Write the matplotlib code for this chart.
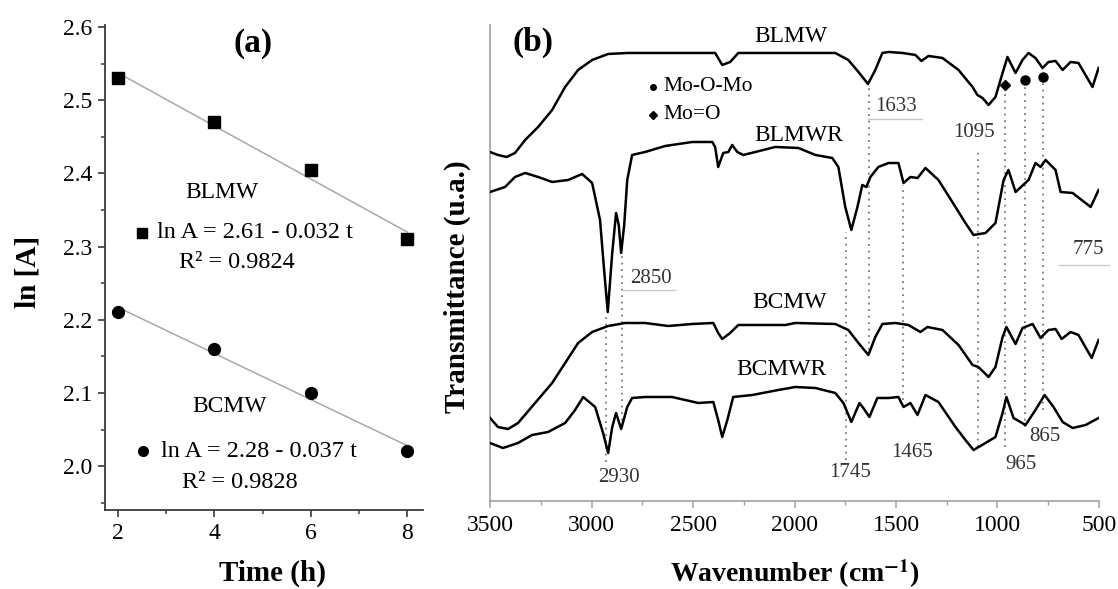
import numpy as np
import matplotlib
matplotlib.use('Agg')
from matplotlib import pyplot as plt

plt.rcParams['font.family'] = ['Liberation Serif', 'DejaVu Serif']
plt.rcParams['mathtext.fontset'] = 'stix'

# (a) ln[A] vs time
time_h = [2, 4, 6, 8]
ln_a_blmw = [2.53, 2.47, 2.405, 2.31]
ln_a_bcmw = [2.21, 2.16, 2.10, 2.02]
eq_blmw = 'ln A = 2.61 - 0.032 t'
eq_bcmw = 'ln A = 2.28 - 0.037 t'
r2_blmw = 'R² = 0.9824'
r2_bcmw = 'R² = 0.9828'

# (b) FTIR spectra, transmittance in arbitrary offset units
wn_blmw = [3500, 3461, 3418, 3377, 3327, 3263, 3194, 3130, 3066, 2997, 2918, 2820,
           2672, 2538, 2391, 2356, 2317, 2277, 1996, 1799, 1735, 1685, 1638, 1602,
           1567, 1537, 1468, 1404, 1375, 1340, 1271, 1192, 1123, 1099, 1074, 1044,
           1010, 975, 951, 911, 877, 847, 813, 778, 749, 714, 679, 640, 601, 532, 502]
t_blmw = [349, 346, 344, 348, 361, 374, 391, 414, 431, 441, 447, 448,
          448, 448, 448, 436, 439, 448, 448, 448, 441, 429, 417, 431,
          448, 449, 448, 446, 440, 445, 443, 431, 414, 406, 403, 396,
          404, 428, 444, 428, 441, 448, 443, 433, 439, 440, 431, 439, 438, 414, 433]

wn_blmwr = [3500, 3426, 3377, 3327, 3263, 3194, 3115, 3046, 2997, 2958, 2938, 2920,
            2898, 2879, 2866, 2854, 2839, 2824, 2800, 2736, 2637, 2504, 2405, 2391,
            2376, 2351, 2326, 2307, 2282, 2252, 2193, 2095, 1981, 1897, 1814, 1784,
            1750, 1720, 1690, 1666, 1646, 1626, 1587, 1537, 1488, 1463, 1429, 1394,
            1355, 1291, 1207, 1158, 1118, 1059, 1010, 970, 946, 911, 847, 813, 788,
            763, 714, 689, 630, 541, 502]
t_blmwr = [309, 314, 324, 328, 324, 319, 321, 327, 318, 281, 231, 189,
           248, 288, 276, 248, 276, 321, 346, 349, 355, 359, 359, 354,
           334, 348, 349, 356, 349, 346, 349, 354, 353, 346, 343, 334,
           294, 271, 294, 316, 314, 324, 334, 338, 338, 318, 324, 323,
           333, 321, 294, 278, 266, 268, 278, 321, 331, 309, 321, 338, 334,
           341, 331, 309, 308, 294, 311]

wn_bcmw = [3500, 3461, 3411, 3362, 3278, 3194, 3130, 3066, 2997, 2918, 2834, 2736,
           2622, 2504, 2400, 2376, 2356, 2317, 2277, 2045, 1996, 1799, 1735, 1685,
           1636, 1602, 1567, 1503, 1439, 1380, 1345, 1271, 1192, 1123, 1094, 1044,
           1010, 975, 956, 911, 877, 827, 788, 749, 714, 684, 640, 601, 536, 502]
t_bcmw = [83, 74, 72, 78, 98, 118, 138, 158, 169, 175, 178, 178,
          175, 177, 178, 168, 162, 168, 176, 176, 178, 177, 171, 158,
          146, 164, 177, 178, 176, 169, 174, 171, 156, 136, 134, 124,
          134, 164, 174, 157, 173, 177, 163, 171, 172, 162, 169, 166, 143, 161]

wn_bcmwr = [3500, 3436, 3362, 3293, 3214, 3130, 3081, 3041, 2982, 2943, 2918, 2898,
            2879, 2854, 2824, 2800, 2736, 2603, 2474, 2400, 2376, 2356, 2331, 2302,
            2208, 2080, 1996, 1897, 1799, 1759, 1720, 1680, 1661, 1631, 1592, 1537,
            1488, 1463, 1429, 1394, 1355, 1291, 1207, 1158, 1118, 1059, 1010, 975,
            956, 921, 862, 813, 768, 724, 679, 630, 566, 502]
t_bcmwr = [58, 53, 58, 66, 69, 78, 91, 104, 94, 68, 48, 74,
           88, 72, 94, 103, 104, 104, 98, 99, 81, 64, 81, 104,
           106, 111, 114, 113, 108, 98, 79, 98, 93, 84, 103, 103,
           104, 94, 98, 86, 106, 99, 74, 61, 51, 58, 64, 88,
           104, 83, 76, 91, 106, 94, 79, 73, 76, 83]

band_wn = [2930, 2850, 1745, 1633, 1465, 1095, 965, 865, 775]

fig = plt.figure(figsize=(11.18, 5.89), dpi=100)
ax1 = fig.add_axes([0.0939, 0.1341, 0.2845, 0.8235])
ax2 = fig.add_axes([0.4383, 0.1494, 0.5447, 0.8082])

# ---- panel (a) ----
t_fit = np.array([2, 8])
for vals in (ln_a_blmw, ln_a_bcmw):
    coef = np.polyfit(time_h, vals, 1)
    ax1.plot(t_fit, np.polyval(coef, t_fit), color='#a8a8a8', lw=1.1, zorder=1)
ax1.plot(time_h, ln_a_blmw, 's', color='black', ms=8, zorder=3)
ax1.plot(time_h, ln_a_bcmw, 'o', color='black', ms=8.5, zorder=3)

ax1.plot([2.5], [2.319], 's', color='black', ms=6.5)
ax1.plot([2.52], [2.02], 'o', color='black', ms=7)
ax1.text(4.16, 2.374, 'BLMW', fontsize=17, ha='center', va='center')
ax1.text(2.81, 2.319, eq_blmw, fontsize=17.5, ha='left', va='center')
ax1.text(4.47, 2.278, r2_blmw, fontsize=17.5, ha='center', va='center')
ax1.text(4.32, 2.082, 'BCMW', fontsize=17, ha='center', va='center')
ax1.text(2.89, 2.02, eq_bcmw, fontsize=17.5, ha='left', va='center')
ax1.text(4.53, 1.978, r2_bcmw, fontsize=17.5, ha='center', va='center')
ax1.text(4.80, 2.578, '(a)', fontsize=24, fontweight='bold', ha='center', va='center')

ax1.set_xlim(1.73, 8.33)
ax1.set_ylim(1.94, 2.603)
ax1.set_xticks([2, 4, 6, 8])
ax1.set_xticks([3, 5, 7], minor=True)
ax1.set_yticks([2.0, 2.1, 2.2, 2.3, 2.4, 2.5, 2.6])
ax1.set_yticks([1.95, 2.05, 2.15, 2.25, 2.35, 2.45, 2.55], minor=True)
ax1.yaxis.set_major_formatter(matplotlib.ticker.FormatStrFormatter('%.1f'))
for side in ('top', 'right'):
    ax1.spines[side].set_visible(False)
for side in ('left', 'bottom'):
    ax1.spines[side].set_color('#3a3a3a')
    ax1.spines[side].set_linewidth(1.3)
ax1.tick_params(which='major', direction='out', length=5, width=1.2,
                color='#3a3a3a', labelsize=17, pad=4)
ax1.tick_params(which='minor', direction='out', length=3, width=1.1, color='#3a3a3a')

# ---- panel (b) ----
for wn, tr in ((wn_blmw, t_blmw), (wn_blmwr, t_blmwr),
               (wn_bcmw, t_bcmw), (wn_bcmwr, t_bcmwr)):
    ax2.plot(wn, tr, color='black', lw=1.8, solid_joinstyle='round', zorder=3)

# dotted band guides
band_top = [188, 248, 269, 415, 316, 353, 413, 416, 419]
band_bot = [39, 74, 41, 151, 101, 54, 54, 74, 91]
ax2.vlines(band_wn, band_bot, band_top, colors='#7a7a7a', lw=1.3,
           linestyles=(0, (1, 2.6)), zorder=2)

label_xy = [(2864, 24), (2706, 222), (1725, 29), (1498, 394), (1419, 49),
            (1118, 368), (882, 37), (768, 64), (551, 251)]
for w, (lx, ly) in zip(band_wn, label_xy):
    ax2.text(lx, ly, str(w), fontsize=15, color='#333333', ha='center', va='center')
# thin underlines below some labels
for x0, x1, y in ((2849, 2588, 211), (1636, 1370, 382), (699, 453, 236)):
    ax2.plot([x0, x1], [y, y], color='#c8c8c8', lw=1.0, clip_on=False)

# band markers
ax2.plot([965], [416], 'D', color='black', ms=5.5, zorder=4)
ax2.plot([865, 775], [421, 424], 'o', color='black', ms=6.5, zorder=4)
ax2.plot([2696], [414], 'o', color='black', ms=4)
ax2.plot([2696], [386], 'D', color='black', ms=4.5)
ax2.text(2647, 414, 'Mo-O-Mo', fontsize=15.5, ha='left', va='center')
ax2.text(2647, 386, 'Mo=O', fontsize=15.5, ha='left', va='center')

ax2.text(2016, 464, 'BLMW', fontsize=17, ha='center', va='center')
ax2.text(1981, 365, 'BLMWR', fontsize=17, ha='center', va='center')
ax2.text(2026, 198, 'BCMW', fontsize=17, ha='center', va='center')
ax2.text(2065, 131, 'BCMWR', fontsize=17, ha='center', va='center')
ax2.text(3288, 459, '(b)', fontsize=24, fontweight='bold', ha='center', va='center')

ax2.set_xlim(3500, 500)
ax2.set_ylim(0, 476)
ax2.set_xticks([3500, 3000, 2500, 2000, 1500, 1000, 500])
ax2.set_xticks([3250, 2750, 2250, 1750, 1250, 750], minor=True)
ax2.set_yticks([])
for side in ('top', 'right'):
    ax2.spines[side].set_visible(False)
for side in ('left', 'bottom'):
    ax2.spines[side].set_color('#a0a0a0')
    ax2.spines[side].set_linewidth(1.2)
ax2.tick_params(which='major', direction='out', length=5, width=1.1,
                color='#a0a0a0', labelsize=17, pad=5)
ax2.tick_params(which='minor', direction='out', length=3, width=1.0, color='#a0a0a0')

# axis titles
fig.text(0.025, 0.538, 'ln [A]', fontsize=21, fontweight='bold', rotation=90,
         ha='center', va='center')
fig.text(0.244, 0.027, 'Time (h)', fontsize=21, fontweight='bold', ha='center', va='center')
fig.text(0.409, 0.514, 'Transmittance (u.a.)', fontsize=21, fontweight='bold',
         rotation=90, ha='center', va='center')
fig.text(0.711, 0.012, r'Wavenumber (cm$^{\mathbf{-1}}$)', fontsize=20,
         fontweight='bold', ha='center', va='baseline')

fig.savefig('out.png', dpi=100)
